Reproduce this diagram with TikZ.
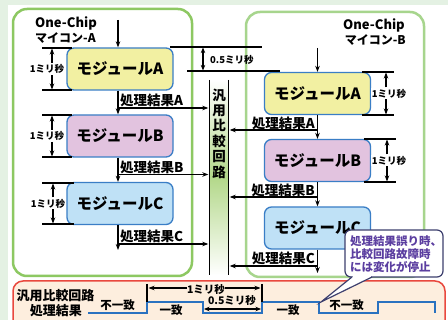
\documentclass[tikz,border=0pt]{standalone}
\usepackage{fontspec}
\setmainfont{Noto Sans CJK JP}
\usetikzlibrary{arrows.meta}
\definecolor{bgg}{HTML}{E4F1E3}
\definecolor{gA}{HTML}{8DC862}
\definecolor{gB}{HTML}{A7D58D}
\definecolor{mblue}{HTML}{3A7EC6}
\definecolor{fA}{HTML}{F2F0A2}
\definecolor{fB}{HTML}{E2C3DF}
\definecolor{fC}{HTML}{BFE1F6}
\definecolor{redb}{HTML}{E9483E}
\definecolor{peach}{HTML}{FDEEDE}
\definecolor{wave}{HTML}{2A72C0}
\definecolor{colg}{HTML}{B3D88A}
\definecolor{navy}{HTML}{3D3F6E}
\definecolor{purp}{HTML}{5B3EA0}
\tikzset{
 fs/.style={font=\fontsize{#1}{#1}\selectfont\bfseries},
 modbox/.style={draw=mblue, line width=1.3pt, rounded corners=7pt, minimum width=106pt, minimum height=42pt, inner sep=0pt, fs=15.5},
 arr/.style={-{Stealth[length=6pt,width=4.5pt]}, line width=1.2pt},
 darr/.style={{Stealth[length=5.5pt,width=4.5pt]}-{Stealth[length=5.5pt,width=4.5pt]}, line width=1.2pt},
 tick/.style={line width=1.3pt},
 chip/.style={rounded corners=14pt, line width=2.5pt},
 lbl/.style={fs=13.5, inner sep=0pt},
 ms/.style={fs=9.5, inner sep=0pt},
}
\newcommand\tmark[8]{%
 \draw[tick] (#1,#4) -- (#2,#4);
 \draw[tick] (#1,#5) -- (#2,#5);
 \draw[arr] (#3,{(#4+#5)/2-6}) -- (#3,#4+0.5);
 \draw[arr] (#3,{(#4+#5)/2+6}) -- (#3,#5-0.5);
 \node[ms, fill=white, inner sep=0.5pt] (#8) at (#6,{(#4+#5)/2}) {#7};}
\begin{document}
\begin{tikzpicture}[x=1pt,y=-1pt]
\useasboundingbox (0,0) rectangle (448,320);
\clip (0,0) rectangle (448,320);
\fill[bgg] (0,0) rectangle (448,320);
\fill[white] (8,5) rectangle (448,320);
% chips
\draw[chip, draw=gA] (13,9) rectangle (192,276);
\draw[chip, draw=gB] (246,12) rectangle (424,277);
\node[fs=13, anchor=west, inner sep=0] (t1) at (35,23) {One-Chip};
\node[fs=12, anchor=west, inner sep=0] (t2) at (35,38) {マイコン-A};
\node[fs=13, anchor=east, inner sep=0] (t3) at (405,25) {One-Chip};
\node[fs=12, anchor=east, inner sep=0] (t4) at (406,40) {マイコン-B};
% modules
\node[modbox, fill=fA] (LA) at (120,69) {モジュールA};
\node[modbox, fill=fB] (LB) at (120,136) {モジュールB};
\node[modbox, fill=fC] (LC) at (120,203.5) {モジュールC};
\node[modbox, fill=fA] (RA) at (317.5,93.5) {モジュールA};
\node[modbox, fill=fB] (RB) at (317.5,160.5) {モジュールB};
\node[modbox, fill=fC] (RC) at (317.5,228) {モジュールC};
% timing marks
\tmark{42}{72}{52}{48}{90}{47}{1ミリ秒}{mLA}
\tmark{42}{72}{52}{115}{157}{47}{1ミリ秒}{mLB}
\tmark{42}{74}{53}{183}{224}{48}{1ミリ秒}{mLC}
\tmark{362}{394}{386}{72}{115}{389}{1ミリ秒}{mRA}
\tmark{364}{396}{387}{139}{182}{389}{1ミリ秒}{mRB}
\draw[tick] (170,47) -- (262,47);
\draw[tick] (187,71) -- (280,71);
\draw[darr] (203,47.6) -- (203,70.4);
\node[ms, anchor=west] (h05) at (210,60) {0.5ミリ秒};
% comparator column
\node[minimum width=18pt, minimum height=195pt, inner sep=0pt] (col) at (219,177.5) {};
\shade[top color=white, bottom color=white, middle color=colg] (col.north west) rectangle (col.south east);
\draw[tick] (col.north west) -- (col.south west);
\draw[tick] (col.north east) -- (col.south east);
\node[inner sep=0pt, align=center, font=\fontsize{13.5}{15.4}\selectfont\bfseries] (colt) at (219,133.5) {汎\\用\\比\\較\\回\\路};
% left flow
\coordinate (inL) at (118,20);
\coordinate (endL) at (118,250);
\draw[arr] (inL) -- ([xshift=-2pt]LA.north);
\draw[arr] ([xshift=-2pt]LA.south) -- ([xshift=-2pt]LB.north);
\draw[arr] ([xshift=-2pt]LB.south) -- ([xshift=-2pt]LC.north);
\draw[arr] ([xshift=-2pt]LC.south) -- (endL);
\coordinate (oLA) at (118,108);
\coordinate (oLB) at (118,174.5);
\coordinate (oLC) at (118,244);
\draw[arr, shorten >=1.5pt] (oLA) -- (oLA -| col.west);
\draw[arr, shorten >=1.5pt] (oLB) -- (oLB -| col.west);
\draw[arr, shorten >=1.5pt] (oLC) -- (oLC -| col.west);
\node[lbl, anchor=west] (lA) at (120,100) {処理結果A};
\node[lbl, anchor=west] (lB) at (120,167) {処理結果B};
\node[lbl, anchor=west] (lC) at (120,236) {処理結果C};
% right flow
\coordinate (inR) at (317.5,48);
\coordinate (endR) at (317.5,273);
\draw[arr] (inR) -- (RA.north);
\draw[arr] (RA.south) -- (RB.north);
\draw[arr] (RB.south) -- (RC.north);
\draw[arr] (RC.south) -- (endR);
\coordinate (oRA) at (317.5,130);
\coordinate (oRB) at (317.5,197);
\coordinate (oRC) at (317.5,266);
\draw[arr, shorten >=1.5pt] (oRA) -- (oRA -| col.east);
\draw[arr, shorten >=1.5pt] (oRB) -- (oRB -| col.east);
\draw[arr, shorten >=1.5pt] (oRC) -- (oRC -| col.east);
\node[lbl, anchor=east] (rA) at (315,123) {処理結果A};
\node[lbl, anchor=east] (rB) at (315,190) {処理結果B};
\node[lbl, anchor=east] (rC) at (315,258) {処理結果C};
% bottom panel
\draw[redb, fill=peach, line width=1.5pt, rounded corners=10pt] (13,281) rectangle (445,340);
\node[fs=13, inner sep=0pt] (b1) at (55.5,296) {汎用比較回路};
\node[fs=13, inner sep=0pt] (b2) at (56,311) {処理結果};
\draw[wave, line width=1.8pt] (88,313) -- (147,313) -- (147,302) -- (203,302) -- (203,313) -- (262,313) -- (262,302) -- (319,302) -- (319,313) -- (378,313) -- (378,302) -- (435,302) -- (435,313);
\node[fs=11.5, inner sep=0pt] (w1) at (117.5,305) {不一致};
\node[fs=11.5, inner sep=0pt] (w2) at (171,310) {一致};
\node[fs=11.5, inner sep=0pt] (w3) at (288,310) {一致};
\node[fs=11.5, inner sep=0pt] (w4) at (346.5,305) {不一致};
\draw[line width=1.8pt] (147,284) -- (147,302);
\draw[line width=1.8pt] (262,284) -- (262,302);
\node[fs=10.5, inner sep=0pt] (d1) at (206,290) {1ミリ秒};
\draw[arr] (187,288) -- (148.5,288);
\draw[arr] (225,288) -- (260.5,288);
\node[fs=10.5, inner sep=0pt] (d2) at (232,301) {0.5ミリ秒};
\draw[darr] (204,309) -- (261,309);
% callout
\draw[navy, line width=1.2pt, fill=white, rounded corners=6pt] (345,230) rectangle (443,277);
\fill[white] (352.6,275) rectangle (371.4,278.2);
\fill[white] (352,277) -- (372,277) -- (321,302) -- cycle;
\draw[navy, line width=1.2pt] (352,277) -- (321,302) -- (372,277);
\node[anchor=west, align=left, inner sep=0pt, text=purp, font=\fontsize{11.5}{13}\selectfont\bfseries] (co) at (350,254) {処理結果誤り時、\\比較回路故障時\\には変化が停止};
\end{tikzpicture}
\end{document}
